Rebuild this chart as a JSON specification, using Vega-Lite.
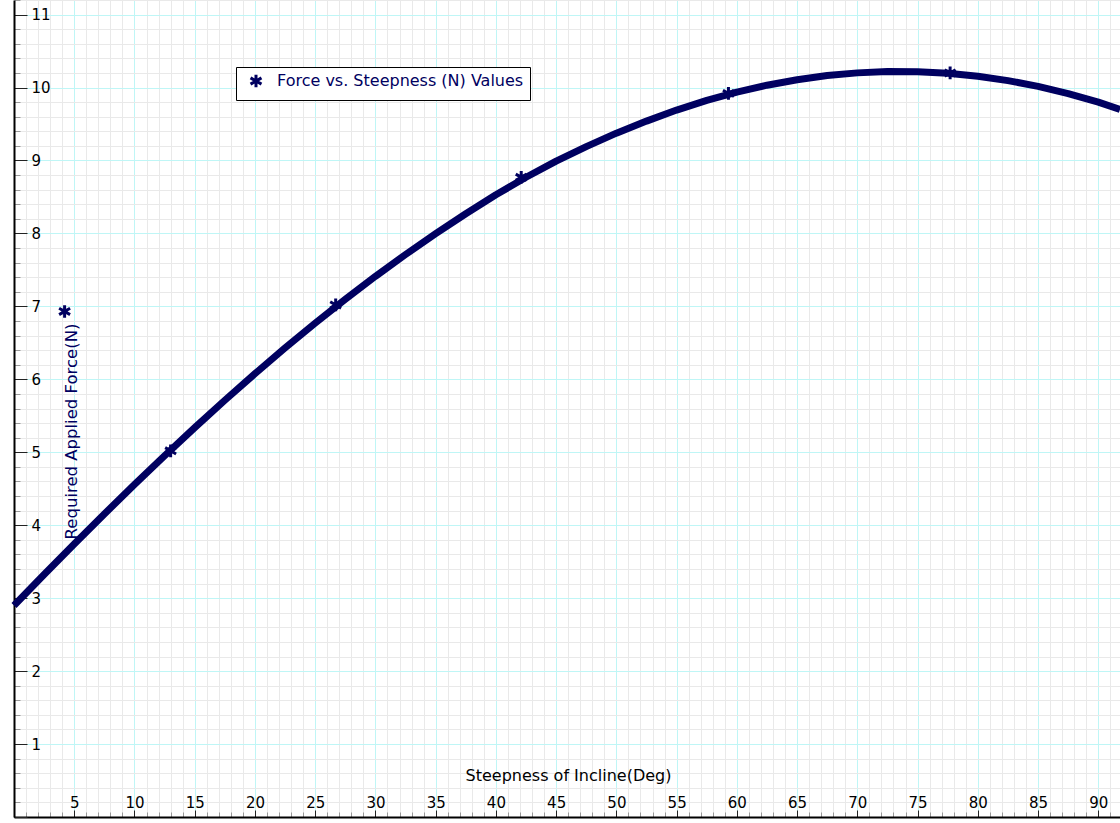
{
  "$schema": "https://vega.github.io/schema/vega-lite/v6.json",
  "width": 1106,
  "height": 817,
  "autosize": {"type": "none"},
  "padding": {"left": 14, "top": 0, "right": 0, "bottom": 6},
  "background": "white",
  "config": {
    "view": {"stroke": null},
    "font": "DejaVu Sans"
  },
  "datasets": {
    "curve": [
      {"deg": 0, "force": 2.9},
      {"deg": 2.5, "force": 3.325},
      {"deg": 5, "force": 3.743},
      {"deg": 7.5, "force": 4.154},
      {"deg": 10, "force": 4.558},
      {"deg": 12.5, "force": 4.952},
      {"deg": 15, "force": 5.338},
      {"deg": 17.5, "force": 5.713},
      {"deg": 20, "force": 6.077},
      {"deg": 22.5, "force": 6.43},
      {"deg": 25, "force": 6.77},
      {"deg": 27.5, "force": 7.098},
      {"deg": 30, "force": 7.412},
      {"deg": 32.5, "force": 7.711},
      {"deg": 35, "force": 7.997},
      {"deg": 37.5, "force": 8.27},
      {"deg": 40, "force": 8.53},
      {"deg": 42.5, "force": 8.77},
      {"deg": 45, "force": 8.99},
      {"deg": 47.5, "force": 9.19},
      {"deg": 50, "force": 9.375},
      {"deg": 52.5, "force": 9.54},
      {"deg": 55, "force": 9.691},
      {"deg": 57.5, "force": 9.823},
      {"deg": 60, "force": 9.937},
      {"deg": 62.5, "force": 10.032},
      {"deg": 65, "force": 10.107},
      {"deg": 67.5, "force": 10.164},
      {"deg": 70, "force": 10.201},
      {"deg": 72.5, "force": 10.219},
      {"deg": 75, "force": 10.217},
      {"deg": 77.5, "force": 10.195},
      {"deg": 80, "force": 10.155},
      {"deg": 82.5, "force": 10.095},
      {"deg": 85, "force": 10.016},
      {"deg": 87.5, "force": 9.917},
      {"deg": 90, "force": 9.8},
      {"deg": 91.8, "force": 9.7}
    ],
    "points": [
      {"deg": 4.2, "force": 6.93, "series": "Force vs. Steepness (N) Values"},
      {"deg": 13, "force": 5.02, "series": "Force vs. Steepness (N) Values"},
      {"deg": 26.7, "force": 7.02, "series": "Force vs. Steepness (N) Values"},
      {"deg": 42.1, "force": 8.77, "series": "Force vs. Steepness (N) Values"},
      {"deg": 59.3, "force": 9.92, "series": "Force vs. Steepness (N) Values"},
      {"deg": 77.7, "force": 10.2, "series": "Force vs. Steepness (N) Values"}
    ]
  },
  "encoding": {
    "x": {
      "field": "deg", "type": "quantitative",
      "scale": {"domain": [0, 91.8], "nice": false, "zero": false},
      "axis": {
        "title": "Steepness of Incline(Deg)",
        "titleFont": "DejaVu Sans", "titleFontSize": 16, "titleFontWeight": "normal", "titleColor": "black",
        "titleX": 554, "titleY": -42, "titleAlign": "center", "titleBaseline": "middle",
        "values": [0,1,2,3,4,5,6,7,8,9,10,11,12,13,14,15,16,17,18,19,20,21,22,23,24,25,26,27,28,29,30,31,32,33,34,35,36,37,38,39,40,41,42,43,44,45,46,47,48,49,50,51,52,53,54,55,56,57,58,59,60,61,62,63,64,65,66,67,68,69,70,71,72,73,74,75,76,77,78,79,80,81,82,83,84,85,86,87,88,89,90,91],
        "labelExpr": "datum.value % 5 === 0 && datum.value > 0 ? datum.label : ''",
        "labelFontSize": 15, "labelColor": "black", "labelBaseline": "alphabetic", "labelAlign": "center",
        "labelPadding": -2.5, "labelFlush": false, "labelOverlap": false,
        "grid": true,
        "gridColor": {"condition": {"test": "datum.value % 5 === 0", "value": "#bff6f6"}, "value": "#e9e9e9"},
        "gridWidth": 1,
        "tickSize": {"condition": {"test": "datum.value % 5 === 0", "value": -7}, "value": -5},
        "tickColor": {"condition": {"test": "datum.value % 5 === 0", "value": "#222"}, "value": "#999"},
        "domainColor": "black", "domainWidth": 2
      }
    },
    "y": {
      "field": "force", "type": "quantitative",
      "scale": {"domain": [0, 11.2], "nice": false, "zero": false},
      "axis": {
        "title": "Required Applied Force(N)",
        "titleFont": "DejaVu Sans", "titleFontSize": 16.5, "titleFontWeight": "normal", "titleColor": "#000060",
        "titleX": 57, "titleY": 431, "titleAngle": 270, "titleAlign": "center", "titleBaseline": "middle",
        "values": [0,0.2,0.4,0.6,0.8,1,1.2,1.4,1.6,1.8,2,2.2,2.4,2.6,2.8,3,3.2,3.4,3.6,3.8,4,4.2,4.4,4.6,4.8,5,5.2,5.4,5.6,5.8,6,6.2,6.4,6.6,6.8,7,7.2,7.4,7.6,7.8,8,8.2,8.4,8.6,8.8,9,9.2,9.4,9.6,9.8,10,10.2,10.4,10.6,10.8,11,11.2],
        "labelExpr": "abs(datum.value - round(datum.value)) < 0.001 && datum.value > 0 ? format(datum.value, 'd') : ''",
        "labelFontSize": 15, "labelColor": "black", "labelAlign": "left", "labelBaseline": "middle",
        "labelPadding": -4, "labelFlush": false, "labelOverlap": false,
        "grid": true,
        "gridColor": {"condition": {"test": "abs(datum.value - round(datum.value)) < 0.001", "value": "#bff6f6"}, "value": "#e9e9e9"},
        "gridWidth": 1,
        "tickSize": {"condition": {"test": "abs(datum.value - round(datum.value)) < 0.001", "value": -13}, "value": -6},
        "tickColor": {"condition": {"test": "abs(datum.value - round(datum.value)) < 0.001", "value": "#222"}, "value": "#999"},
        "domainColor": "black", "domainWidth": 2
      }
    }
  },
  "layer": [
    {
      "data": {"name": "curve"},
      "mark": {"type": "line", "color": "#000060", "strokeWidth": 7, "strokeCap": "butt", "strokeJoin": "round"}
    },
    {
      "data": {"name": "points"},
      "mark": {"type": "point", "shape": "M0,-1V1M-0.866,-0.5L0.866,0.5M-0.866,0.5L0.866,-0.5", "filled": false, "strokeWidth": 3, "size": 160, "opacity": 1},
      "encoding": {
        "color": {
          "field": "series", "type": "nominal",
          "scale": {"range": ["#000060"]},
          "legend": {
            "title": null,
            "orient": "none", "legendX": 222, "legendY": 67,
            "direction": "vertical",
            "symbolType": "M0,-1V1M-0.866,-0.5L0.866,0.5M-0.866,0.5L0.866,-0.5",
            "symbolSize": 160, "symbolStrokeWidth": 3, "symbolStrokeColor": "#000060", "symbolFillColor": "transparent",
            "symbolOffset": 6,
            "labelFont": "DejaVu Sans", "labelFontSize": 16, "labelColor": "#000060", "labelOffset": 13, "labelLimit": 500,
            "labelExpr": "datum.label + '\u00a0\u00a0\u00a0\u00a0'",
            "strokeColor": "black", "fillColor": "white", "padding": 6, "cornerRadius": 0,
            "encode": {"legend": {"update": {"strokeWidth": {"value": 2}}}}
          }
        }
      }
    }
  ]
}
